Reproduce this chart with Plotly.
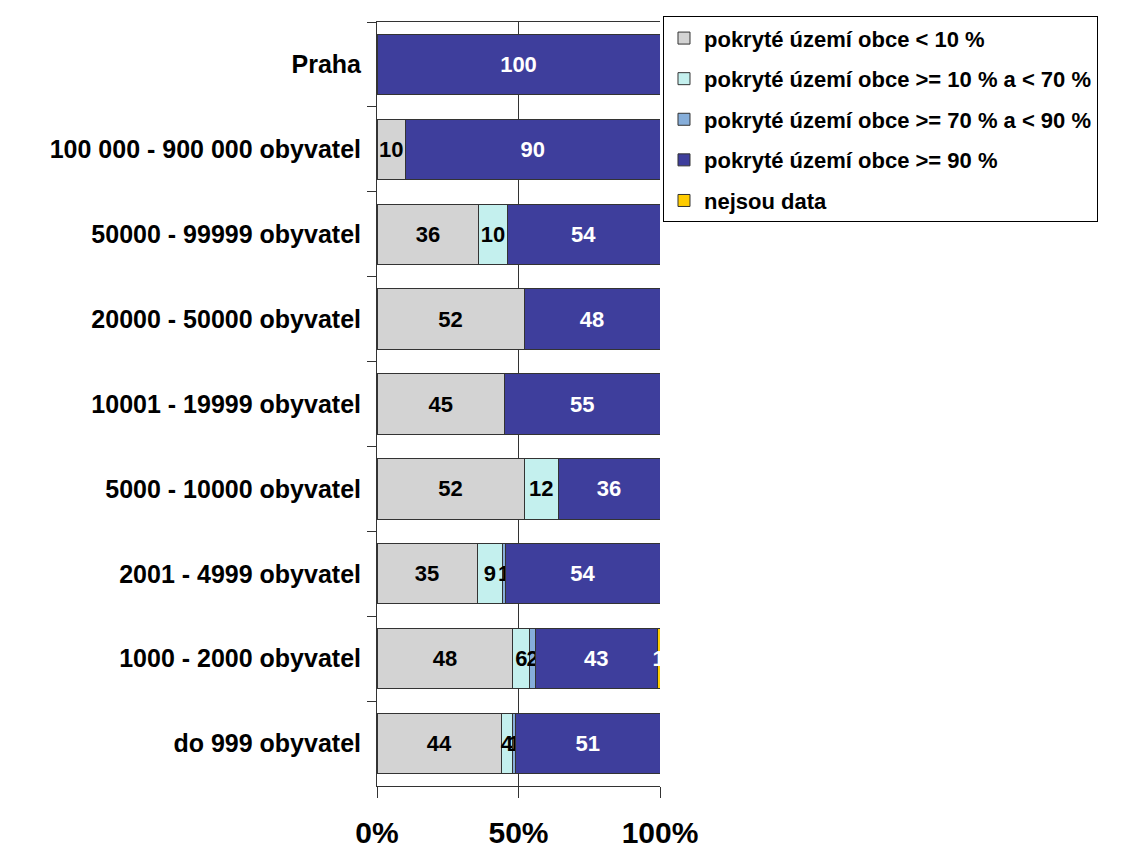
import plotly.graph_objs as go

# Kategorie obcí (shora dolů jako v grafu)
kategorie = [
    "Praha",
    "100 000 - 900 000 obyvatel",
    "50000 - 99999 obyvatel",
    "20000 - 50000 obyvatel",
    "10001 - 19999 obyvatel",
    "5000 - 10000 obyvatel",
    "2001 - 4999 obyvatel",
    "1000 - 2000 obyvatel",
    "do 999 obyvatel",
]

pod_10 = [0, 10, 36, 52, 45, 52, 35, 48, 44]
od_10_do_70 = [0, 0, 10, 0, 0, 12, 9, 6, 4]
od_70_do_90 = [0, 0, 0, 0, 0, 0, 1, 2, 1]
nad_90 = [100, 90, 54, 48, 55, 36, 54, 43, 51]
nejsou_data = [0, 0, 0, 0, 0, 0, 0, 1, 0]

serie = [
    ("pokryté území obce < 10 %", pod_10, "#D3D3D3", "black"),
    ("pokryté území obce >= 10 % a < 70 %", od_10_do_70, "#C4F0EE", "black"),
    ("pokryté území obce >= 70 % a < 90 %", od_70_do_90, "#86AEDA", "black"),
    ("pokryté území obce >= 90 %", nad_90, "#3E3E9C", "white"),
    ("nejsou data", nejsou_data, "#FFCC00", "white"),
]

fig = go.Figure()
for i, (nazev, hodnoty, barva, barva_textu) in enumerate(serie):
    fig.add_trace(go.Bar(
        y=kategorie, x=hodnoty, name=nazev, orientation="h",
        marker=dict(color=barva, line=dict(color="#333333", width=1)),
        text=[str(v) if v else "" for v in hodnoty],
        textposition="inside", insidetextanchor="middle", textangle=0,
        textfont=dict(family="Liberation Sans", size=22, color=barva_textu, weight="bold"),
        legendgroup=str(i), hoverinfo="x+y+name",
    ))

# stránka má okraj 8 px, proto je graf o tolik menší a posunutý
fig.update_layout(
    width=1129, height=842,
    barmode="stack", barnorm="percent", bargap=0.29,
    plot_bgcolor="white", paper_bgcolor="white",
    margin=dict(l=369, r=477, t=8, b=64),
    font=dict(family="Liberation Sans", color="black"),
    uniformtext=dict(mode="show", minsize=22),
    legend=dict(
        x=1.0106, y=1.0075, xanchor="left", yanchor="top",
        bgcolor="white", bordercolor="black", borderwidth=1,
        font=dict(size=22, family="Liberation Sans", weight="bold"),
        traceorder="grouped", tracegroupgap=9,
    ),
    showlegend=True,
)
fig.update_xaxes(
    range=[0, 100], tickvals=[0, 50, 100], ticktext=["0%", "50%", "100%"],
    showgrid=True, gridcolor="#333333", gridwidth=1, zeroline=False,
    showline=True, linecolor="#333333", mirror=True,
    ticks="outside", ticklen=11, tickcolor="#333333",
    tickfont=dict(size=30, weight="bold"), ticklabelstandoff=9,
    automargin=False,
)
fig.update_yaxes(
    categoryorder="array", categoryarray=kategorie, autorange="reversed",
    showline=True, linecolor="#333333",
    ticks="outside", ticklen=9, tickcolor="#333333", tickson="boundaries",
    tickfont=dict(size=25, weight="bold"), ticklabelstandoff=10,
    automargin=False,
)

fig.write_html("out.html")
